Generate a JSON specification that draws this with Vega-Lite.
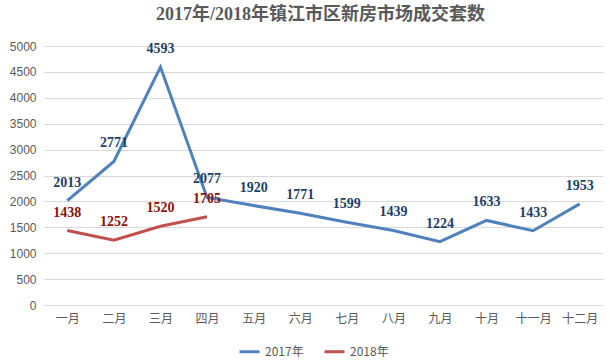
{
  "$schema": "https://vega.github.io/schema/vega-lite/v6.json",
  "width": 559,
  "height": 259,
  "autosize": {"type": "none"},
  "padding": {"left": 44, "right": 7, "top": 46, "bottom": 55},
  "background": "white",
  "title": {
    "text": "2017年/2018年镇江市区新房市场成交套数",
    "font": "Liberation Serif, Noto Sans CJK SC",
    "fontSize": 18,
    "fontWeight": "bold",
    "color": "#595959",
    "anchor": "middle",
    "frame": "group",
    "dx": -3,
    "offset": 16
  },
  "config": {
    "view": {"stroke": null},
    "font": "Noto Sans CJK SC"
  },
  "data": {
    "values": [
      {"month": "一月", "year": "2017年", "value": 2013},
      {"month": "二月", "year": "2017年", "value": 2771},
      {"month": "三月", "year": "2017年", "value": 4593},
      {"month": "四月", "year": "2017年", "value": 2077},
      {"month": "五月", "year": "2017年", "value": 1920},
      {"month": "六月", "year": "2017年", "value": 1771},
      {"month": "七月", "year": "2017年", "value": 1599},
      {"month": "八月", "year": "2017年", "value": 1439},
      {"month": "九月", "year": "2017年", "value": 1224},
      {"month": "十月", "year": "2017年", "value": 1633},
      {"month": "十一月", "year": "2017年", "value": 1433},
      {"month": "十二月", "year": "2017年", "value": 1953},
      {"month": "一月", "year": "2018年", "value": 1438},
      {"month": "二月", "year": "2018年", "value": 1252},
      {"month": "三月", "year": "2018年", "value": 1520},
      {"month": "四月", "year": "2018年", "value": 1705}
    ]
  },
  "encoding": {
    "x": {
      "field": "month",
      "type": "ordinal",
      "sort": ["一月","二月","三月","四月","五月","六月","七月","八月","九月","十月","十一月","十二月"],
      "scale": {"type": "point", "padding": 0.5},
      "axis": {
        "title": null,
        "labelAngle": 0,
        "labelColor": "#595959",
        "labelFontSize": 12,
        "domainColor": "#D9D9D9",
        "ticks": false,
        "labelPadding": 8,
        "grid": false
      }
    },
    "y": {
      "field": "value",
      "type": "quantitative",
      "scale": {"domain": [0, 5000]},
      "axis": {
        "title": null,
        "values": [0,500,1000,1500,2000,2500,3000,3500,4000,4500,5000],
        "format": "d",
        "labelColor": "#595959",
        "labelFontSize": 12,
        "labelFont": "Liberation Sans",
        "domain": false,
        "ticks": false,
        "labelPadding": 8,
        "gridColor": "#D9D9D9"
      }
    }
  },
  "layer": [
    {
      "mark": {"type": "line", "strokeWidth": 3},
      "encoding": {
        "color": {
          "field": "year",
          "type": "nominal",
          "scale": {"domain": ["2017年", "2018年"], "range": ["#4F81BD", "#C0504D"]},
          "legend": {
            "title": null,
            "orient": "none",
            "legendX": 194,
            "legendY": 294,
            "direction": "horizontal",
            "symbolType": "stroke",
            "symbolStrokeWidth": 3,
            "symbolSize": 400,
            "labelColor": "#595959",
            "labelFontSize": 12,
            "columnPadding": 14
          }
        }
      }
    },
    {
      "mark": {
        "type": "text",
        "dy": -18,
        "fontWeight": "bold",
        "fontSize": 14,
        "font": "Liberation Serif"
      },
      "encoding": {
        "text": {"field": "value", "type": "quantitative", "format": "d"},
        "color": {
          "condition": {"test": "datum.year === '2017年'", "value": "#1F3F66"},
          "value": "#8B1010"
        }
      }
    }
  ]
}
